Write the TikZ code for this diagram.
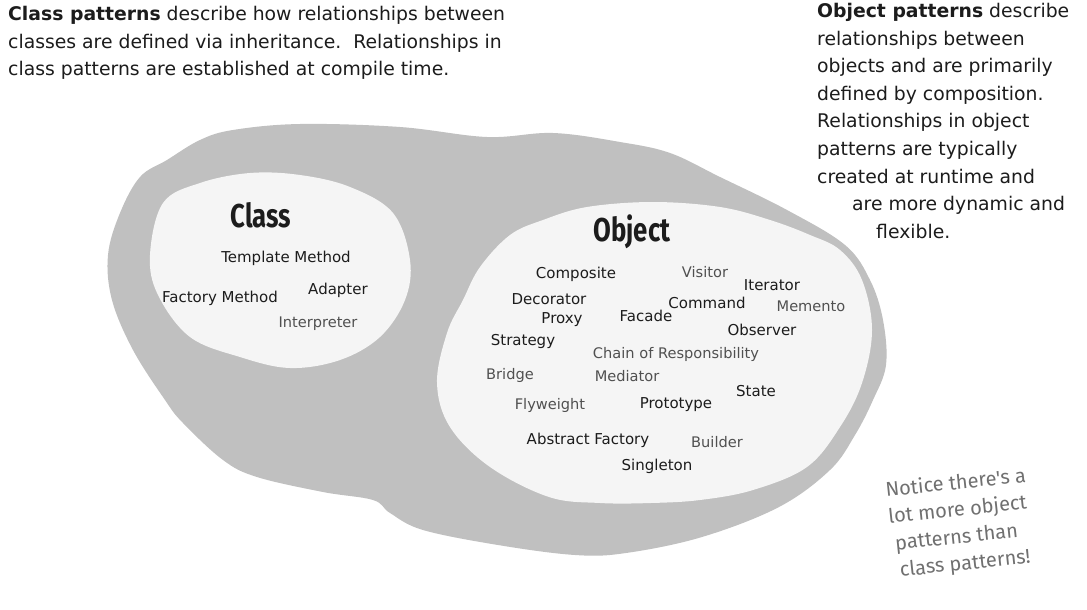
\documentclass[tikz,border=0pt]{standalone}
\usepackage{fontspec}
\setmainfont{DejaVu Sans}
\newfontfamily\headfont[FakeStretch=0.78]{Fira Sans}
\newfontfamily\notefont{Fira Sans}
\definecolor{outergray}{HTML}{C0C0C0}
\definecolor{innerwhite}{HTML}{F5F5F5}
\definecolor{darktxt}{HTML}{1C1C1C}
\definecolor{lighttxt}{HTML}{505050}
\definecolor{notegray}{HTML}{707070}
\tikzset{
  para/.style={inner sep=0pt, align=left, text=darktxt, font=\fontsize{18.8}{27.6}\selectfont},
  head/.style={inner sep=0pt, text=darktxt, font=\headfont\bfseries\fontsize{33}{36}\selectfont},
  pat/.style={inner sep=0pt, text=darktxt, font=\fontsize{15}{17}\selectfont},
  patl/.style={pat, text=lighttxt, font=\fontsize{14.6}{17}\selectfont},
  note/.style={inner sep=0pt, align=left, text=notegray, font=\notefont\fontsize{20}{27}\selectfont, rotate=6}
}
\begin{document}
\begin{tikzpicture}[x=1pt,y=-1pt]
\useasboundingbox[fill=white] (0,0) rectangle (1087,610);
% outer blob
\fill[outergray] plot[smooth cycle, tension=0.6] coordinates {(108,255) (120,213) (140,177) (167,160) (200,140) (233,130) (300,124) (400,127) (487,137) (553,133) (620,142) (670,153) (720,177) (787,210) (845,245) (870,280) (883,320) (886,365) (873,400) (855,435) (830,470) (779,507) (702,537) (626,553) (575,555) (498,545) (423,530) (390,513) (373,500) (323,492) (257,477) (223,460) (183,423) (165,400) (133,350) (112,300)};
% class blob
\fill[innerwhite] plot[smooth cycle, tension=0.6] coordinates {(150,255) (163,203) (200,183) (250,173) (300,175) (350,187) (393,213) (410,260) (405,300) (380,337) (340,360) (290,368) (240,357) (190,337) (158,295)};
% object blob
\fill[innerwhite] plot[smooth cycle, tension=0.6] coordinates {(463,300) (480,267) (510,235) (543,220) (587,207) (653,202) (720,207) (770,220) (810,235) (840,250) (862,280) (872,330) (862,383) (840,427) (807,467) (753,490) (700,500) (651,503) (600,503) (549,497) (490,467) (450,427) (437,383) (447,333)};

\node[para, anchor=north west] (classtxt) at (8,6) {\textbf{Class patterns} describe how relationships between\\classes are defined via inheritance.\ \ Relationships in\\class patterns are established at compile time.};
\node[para, anchor=north west] (objtxt) at (817,3) {\textbf{Object patterns} describe\\relationships between\\objects and are primarily\\defined by composition.\\Relationships in object\\patterns are typically\\created at runtime and\\\hspace*{35pt}are more dynamic and\\\hspace*{59pt}flexible.};

\node[head] (classhead) at (261,215) {Class};
\node[head] (objhead) at (632,232) {Object};

\node[pat] (tm) at (286,258) {Template Method};
\node[pat] (fm) at (220,298) {Factory Method};
\node[pat] (ad) at (338,290) {Adapter};
\node[patl] (in) at (318,324) {Interpreter};

\node[pat] (co) at (576,274) {Composite};
\node[patl] (vi) at (705,272) {Visitor};
\node[pat] (it) at (772,285) {Iterator};
\node[pat] (de) at (549,299) {Decorator};
\node[pat] (cm) at (707,303) {Command};
\node[patl] (me) at (811,306) {Memento};
\node[pat] (pr) at (562,320) {Proxy};
\node[pat] (fa) at (646,316) {Facade};
\node[pat] (ob) at (762,330) {Observer};
\node[pat] (st) at (523,341) {Strategy};
\node[patl] (cr) at (676,354) {Chain of Responsibility};
\node[patl] (br) at (510,375) {Bridge};
\node[patl] (md) at (627,376) {Mediator};
\node[pat] (sa) at (756,391) {State};
\node[patl] (fw) at (550,405) {Flyweight};
\node[pat] (pt) at (676,405) {Prototype};
\node[pat] (af) at (588,440) {Abstract Factory};
\node[patl] (bu) at (717,442) {Builder};
\node[pat] (si) at (657,466) {Singleton};

\node[note] (notetxt) at (960,524) {Notice there's a\\lot more object\\\hspace*{4pt}patterns than\\\hspace*{6pt}class patterns!};
\end{tikzpicture}
\end{document}
